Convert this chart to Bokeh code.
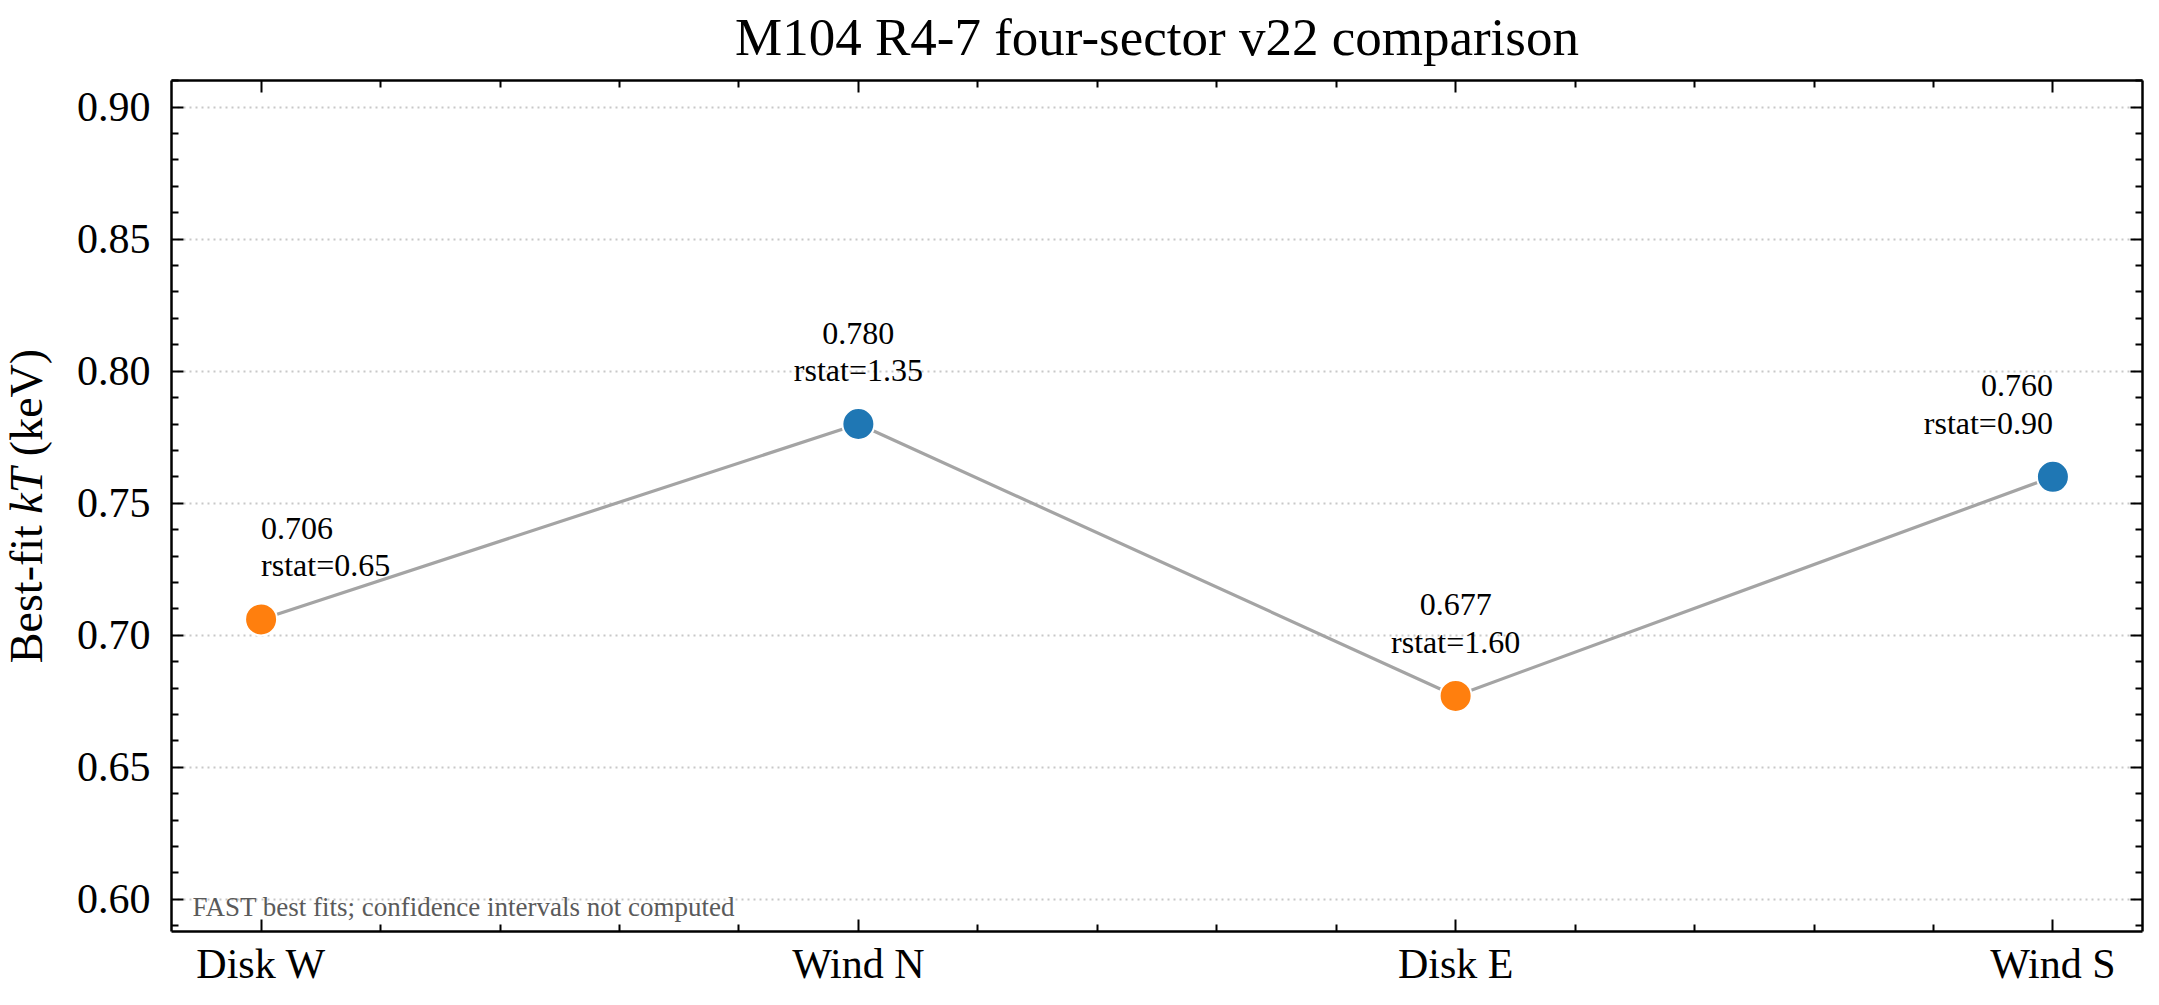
import math

from bokeh.embed import file_html
from bokeh.layouts import column, row
from bokeh.models import (ColumnDataSource, FixedTicker, Label, LinearAxis,
                          PrintfTickFormatter, Range1d)
from bokeh.plotting import figure
from bokeh.resources import INLINE

# ---- data -------------------------------------------------------------
sectors = ["Disk W", "Wind N", "Disk E", "Wind S"]
kT_keV = [0.706, 0.780, 0.677, 0.760]
rstat = [0.65, 1.35, 1.60, 0.90]
y_ticks = [0.60, 0.65, 0.70, 0.75, 0.80, 0.85, 0.90]

title_text = "M104 R4-7 four-sector v22 comparison"
note_text = "FAST best fits; confidence intervals not computed"
ylabel_parts = [("Best-fit", "normal"), ("kT", "italic"), ("(keV)", "normal")]

# ---- page geometry / styling -----------------------------------------
FONT = "Liberation Serif"
SECTOR_COLORS = {"Disk": "#ff7f0e", "Wind": "#1f77b4"}

PAGE_W, PAGE_H = 2159, 1005
TITLE_H = 70          # strip holding the title
LABEL_W = 60          # strip holding the rotated y-axis title
FRAME_L, FRAME_R = 171, 2142
FRAME_T, FRAME_B = 80, 931

x = list(range(len(sectors)))
colors = [SECTOR_COLORS[s.split()[0]] for s in sectors]
src = ColumnDataSource(dict(x=x, kT=kT_keV, color=colors))

x_lo, x_hi = -0.15, len(sectors) - 1 + 0.15
y_lo, y_hi = 0.5878, 0.9101
y_range = Range1d(y_lo, y_hi)

main_w = PAGE_W - LABEL_W
main_h = PAGE_H - TITLE_H

p = figure(
    width=main_w, height=main_h, title=None,
    output_backend="svg", toolbar_location=None,
    x_range=Range1d(x_lo, x_hi), y_range=y_range,
    min_border_left=FRAME_L - LABEL_W, min_border_right=PAGE_W - FRAME_R,
    min_border_top=FRAME_T - TITLE_H, min_border_bottom=PAGE_H - FRAME_B,
    background_fill_color="white", border_fill_color="white",
)
p.outline_line_color = None

# tick positions: categories on x, 0.05 steps on y, with minor ticks between
x_minor = [round(i + 0.2 * k, 2) for i in range(len(sectors) - 1) for k in range(1, 5)]
y_minor = [round(0.59 + 0.01 * k, 2) for k in range(33)]
y_minor = [t for t in y_minor if y_lo <= t <= y_hi and t not in y_ticks]

x_ticker = FixedTicker(ticks=x, minor_ticks=x_minor)
y_ticker = FixedTicker(ticks=y_ticks, minor_ticks=y_minor)


def style_axis(ax, show_labels):
    ax.axis_line_color = "black"
    ax.axis_line_width = 2.5
    ax.major_tick_in = 12
    ax.major_tick_out = 0
    ax.minor_tick_in = 7
    ax.minor_tick_out = 0
    ax.major_tick_line_color = "black"
    ax.minor_tick_line_color = "black"
    ax.major_tick_line_width = 2
    ax.minor_tick_line_width = 2
    if show_labels:
        ax.major_label_text_font = FONT
        ax.major_label_text_font_size = "42px"
        ax.major_label_text_color = "black"
    else:
        ax.major_label_text_color = None
        ax.major_label_text_font_size = "1px"
        ax.major_label_standoff = 0


xb = p.xaxis[0]
xb.ticker = x_ticker
xb.major_label_overrides = {i: s for i, s in zip(x, sectors)}
xb.major_label_standoff = 9
style_axis(xb, True)

yl = p.yaxis[0]
yl.ticker = y_ticker
yl.formatter = PrintfTickFormatter(format="%.2f")
yl.major_label_standoff = 21
style_axis(yl, True)

xt = LinearAxis(ticker=x_ticker)
style_axis(xt, False)
p.add_layout(xt, "above")

yr = LinearAxis(ticker=y_ticker)
style_axis(yr, False)
p.add_layout(yr, "right")

p.xgrid.visible = False
p.ygrid.ticker = y_ticker
p.ygrid.grid_line_color = "#c8c8c8"
p.ygrid.grid_line_width = 2
p.ygrid.grid_line_dash = "2 4"

# ---- connecting line and sector markers -------------------------------
p.line("x", "kT", source=src, line_color="#a4a4a4", line_width=3.2)
p.scatter("x", "kT", source=src, size=32, fill_color="color",
          line_color="white", line_width=2)

# value / rstat annotations above each point
for i, (xi, v, r) in enumerate(zip(x, kT_keV, rstat)):
    if i == 0:
        align = "left"
    elif i == len(x) - 1:
        align = "right"
    else:
        align = "center"
    for txt, off in ((f"{v:.3f}", 91), (f"rstat={r:.2f}", 54)):
        p.add_layout(Label(
            x=xi, y=v, y_offset=off, text=txt,
            text_align=align, text_baseline="alphabetic",
            text_font=FONT, text_font_size="32px", text_color="black",
        ))

# footnote inside the lower-left corner
p.add_layout(Label(
    x=x_lo, x_offset=21, y=y_lo, y_offset=25, text=note_text,
    text_align="left", text_baseline="alphabetic",
    text_font=FONT, text_font_size="27px", text_color="#5a5a5a",
))


def blank_strip(w, h, y_rng):
    f = figure(width=w, height=h, title=None,
               output_backend="svg", toolbar_location=None,
               x_range=Range1d(0, w), y_range=y_rng,
               x_axis_type=None, y_axis_type=None,
               min_border=0, background_fill_color="white",
               border_fill_color="white")
    f.outline_line_color = None
    f.xgrid.visible = False
    f.ygrid.visible = False
    return f


# ---- title strip -------------------------------------------------------
t = blank_strip(PAGE_W, TITLE_H, Range1d(0, TITLE_H))
t.add_layout(Label(
    x=(FRAME_L + FRAME_R) / 2, y=34, text=title_text,
    text_align="center", text_baseline="alphabetic",
    text_font=FONT, text_font_size="53px", text_color="black",
))

# ---- rotated y-axis title strip (kT in italics) -----------------------
# shares the main y range, so the label is centred on the plotting frame
LABEL_PX = 46
EM = {"Best-fit": 3.0, "kT": 1.0, "(keV)": 2.332}
SPACE_EM = 0.25
total_em = sum(EM[s] for s, _ in ylabel_parts) + SPACE_EM * (len(ylabel_parts) - 1)
offset = -total_em * LABEL_PX / 2
yl_fig = blank_strip(LABEL_W, main_h, y_range)
for txt, style in ylabel_parts:
    yl_fig.add_layout(Label(
        x=26, y=(y_lo + y_hi) / 2, y_offset=offset, text=txt, angle=math.pi / 2,
        text_align="left", text_baseline="alphabetic",
        text_font=FONT, text_font_size=f"{LABEL_PX}px",
        text_font_style=style, text_color="black",
    ))
    offset += (EM[txt] + SPACE_EM) * LABEL_PX

layout = column(t, row(yl_fig, p, spacing=0), spacing=0)
open("out.html", "w").write(file_html(layout, INLINE))
